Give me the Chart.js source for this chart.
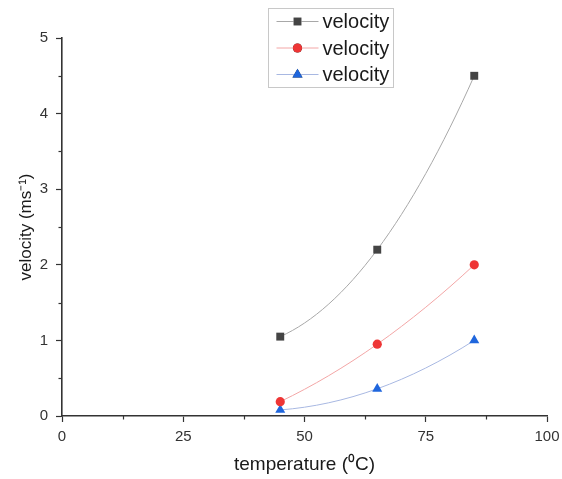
<!DOCTYPE html>
<html><head><meta charset="utf-8">
<script src="https://cdn.jsdelivr.net/npm/chart.js@4.4.1/dist/chart.umd.min.js"></script>
<style>html,body{margin:0;padding:0;background:#fff}#wrap{width:562px;height:479px}</style>
</head><body><div id="wrap"><canvas id="c" width="562" height="479"></canvas></div>
<script>
const temperatures = [45, 65, 85];
const velocityBlack = [1.05, 2.2, 4.5];
const velocityRed = [0.19, 0.95, 2.0];
const velocityBlue = [0.08, 0.36, 1.0];
const seriesLabels = ['velocity', 'velocity', 'velocity'];
const xTickLabels = [0, 25, 50, 75, 100];
const yTickLabels = [0, 1, 2, 3, 4, 5];

const FONT = 'Liberation Sans, Arial, sans-serif';
const styles = [
  {marker: '#444444', line: '#a8a8a8', shape: 'rect', r: 5.6},
  {marker: '#ee3535', line: '#f3a6a6', shape: 'circle', r: 4.6},
  {marker: '#1f66dd', line: '#a8b8e2', shape: 'triangle', r: 5.8}
];
const seriesValues = [velocityBlack, velocityRed, velocityBlue];
const datasets = seriesValues.map((vals, i) => ({
  label: seriesLabels[i],
  data: temperatures.map((t, j) => ({x: t, y: vals[j]})),
  borderColor: styles[i].line,
  borderWidth: 1,
  backgroundColor: styles[i].marker,
  pointBackgroundColor: styles[i].marker,
  pointBorderColor: styles[i].marker,
  pointBorderWidth: 0,
  pointStyle: styles[i].shape,
  pointRadius: styles[i].r,
  tension: 0.4,
  clip: false
}));

// Smooth spline through the points (quadratic/Hermite end conditions) computed
// from the library's own point pixel positions.
const smoothSpline = {
  id: 'smoothSpline',
  beforeDatasetDraw(chart, args) {
    const meta = args.meta;
    const line = meta.dataset;
    if (!line) return;
    line.updateControlPoints(chart.chartArea, 'x');
    const p = meta.data;
    const n = p.length;
    if (n < 3) return;
    const tx = new Array(n), ty = new Array(n);
    for (let i = 0; i < n; i++) {
      if (i === 0) {
        tx[i] = (-3 * p[0].x + 4 * p[1].x - p[2].x) / 2;
        ty[i] = (-3 * p[0].y + 4 * p[1].y - p[2].y) / 2;
      } else if (i === n - 1) {
        tx[i] = (p[n-3].x - 4 * p[n-2].x + 3 * p[n-1].x) / 2;
        ty[i] = (p[n-3].y - 4 * p[n-2].y + 3 * p[n-1].y) / 2;
      } else {
        tx[i] = (p[i+1].x - p[i-1].x) / 2;
        ty[i] = (p[i+1].y - p[i-1].y) / 2;
      }
    }
    for (let i = 0; i < n; i++) {
      p[i].cp1x = p[i].x - tx[i] / 3; p[i].cp1y = p[i].y - ty[i] / 3;
      p[i].cp2x = p[i].x + tx[i] / 3; p[i].cp2y = p[i].y + ty[i] / 3;
    }
    line._path = undefined;
  }
};

const minorTicks = {
  id: 'minorTicks',
  afterDraw(chart) {
    const ctx = chart.ctx;
    const xs = chart.scales.x, ys = chart.scales.y;
    ctx.save();
    ctx.strokeStyle = '#333';
    ctx.lineWidth = 1.2;
    for (let i = 0; i < xTickLabels.length - 1; i++) {
      const v = (xTickLabels[i] + xTickLabels[i+1]) / 2;
      const px = Math.round(xs.getPixelForValue(v)) + 0.5;
      ctx.beginPath(); ctx.moveTo(px, ys.bottom); ctx.lineTo(px, ys.bottom + 3.5); ctx.stroke();
    }
    for (let i = 0; i < yTickLabels.length - 1; i++) {
      const v = (yTickLabels[i] + yTickLabels[i+1]) / 2;
      const py = Math.round(ys.getPixelForValue(v)) + 0.5;
      ctx.beginPath(); ctx.moveTo(xs.left, py); ctx.lineTo(xs.left - 3.5, py); ctx.stroke();
    }
    ctx.restore();
  }
};

const boxLegend = {
  id: 'boxLegend',
  afterDraw(chart) {
    const ctx = chart.ctx;
    const bx = 268.5, by = 8.5, bw = 125, bh = 79;
    ctx.save();
    ctx.fillStyle = '#fff';
    ctx.fillRect(bx, by, bw, bh);
    ctx.strokeStyle = '#c8c8c8';
    ctx.lineWidth = 1;
    ctx.strokeRect(bx, by, bw, bh);
    chart.data.datasets.forEach((ds, i) => {
      const y = by + 13 + i * 26.5;
      ctx.strokeStyle = ds.borderColor;
      ctx.lineWidth = 1;
      ctx.beginPath(); ctx.moveTo(bx + 8, y); ctx.lineTo(bx + 50, y); ctx.stroke();
      Chart.helpers.drawPoint(ctx, {pointStyle: ds.pointStyle, radius: ds.pointRadius, borderWidth: 0, rotation: 0}, bx + 29, y);
      ctx.fillStyle = ds.pointBackgroundColor;
      ctx.fill();
      ctx.fillStyle = '#1a1a1a';
      ctx.font = '20px ' + FONT;
      ctx.textBaseline = 'middle';
      ctx.textAlign = 'left';
      ctx.fillText(ds.label, bx + 54, y + 1);
    });
    ctx.restore();
  }
};

new Chart(document.getElementById('c'), {
  type: 'line',
  data: {datasets},
  options: {
    responsive: false,
    animation: false,
    devicePixelRatio: 1,
    layout: {padding: {left: 0, top: 38, right: 15, bottom: 0}},
    plugins: {legend: {display: false}, tooltip: {enabled: false}},
    scales: {
      x: {
        type: 'linear', min: 0, max: 100,
        afterBuildTicks: s => { s.ticks = xTickLabels.map(v => ({value: v})); },
        afterFit: s => { s.height = 63; s.paddingRight = 0; s.paddingLeft = 0; },
        border: {color: '#333', width: 1.6},
        grid: {drawOnChartArea: false, drawTicks: true, tickLength: 6, tickColor: '#333', tickWidth: 1.2},
        ticks: {color: '#333', font: {family: FONT, size: 15}, padding: 6, maxRotation: 0},
        title: {display: true, text: 'temperature (\u2070C)', color: '#1a1a1a', font: {family: FONT, size: 19}, padding: {top: 5, bottom: 3}}
      },
      y: {
        type: 'linear', min: 0, max: 5,
        afterBuildTicks: s => { s.ticks = yTickLabels.map(v => ({value: v})); },
        afterFit: s => { s.width = 62; },
        border: {color: '#333', width: 1.6},
        grid: {drawOnChartArea: false, drawTicks: true, tickLength: 6, tickColor: '#333', tickWidth: 1.2},
        ticks: {color: '#333', font: {family: FONT, size: 15}, padding: 8},
        title: {display: true, text: 'velocity (ms\u207B\u00B9)', color: '#1a1a1a', font: {family: FONT, size: 17}, padding: {top: 16, bottom: 0}}
      }
    }
  },
  plugins: [smoothSpline, minorTicks, boxLegend]
});
</script></body></html>
